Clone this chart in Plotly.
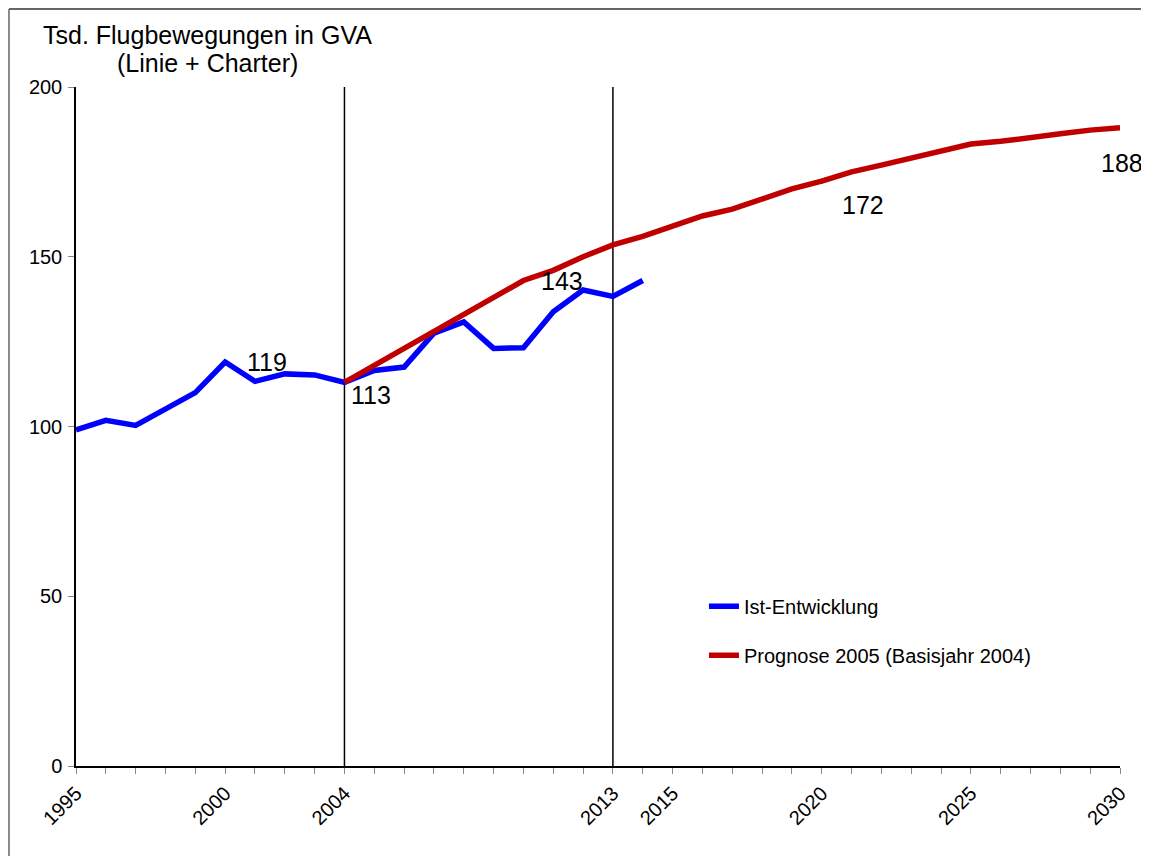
import plotly.graph_objects as go

years_ist = list(range(1995, 2015))
ist = [99.0, 101.8, 100.3, 105.0, 110.0, 119.0, 113.3, 115.5, 115.2, 113.0,
       116.5, 117.5, 127.5, 130.8, 123.0, 123.2, 133.8, 140.2, 138.3, 143.0]

years_prog = list(range(2004, 2031))
prog = [113.0, 118.0, 123.0, 128.0, 133.0, 138.0, 143.0, 146.0, 150.0, 153.5,
        156.0, 159.0, 162.0, 164.0, 167.0, 170.0, 172.3, 175.0, 177.0, 179.0,
        181.0, 183.2, 184.0, 185.3, 186.2, 187.3, 188.0]

tick_years = list(range(1995, 2031))
labeled_years = [1995, 2000, 2004, 2013, 2015, 2020, 2025, 2030]
marker_years = [2004, 2013]

# data labels: (series, year, text, xshift, yshift)
labels = [
    ("ist", 2000, "119", 42, 0),
    ("ist", 2004, "113", 27, -13),
    ("prog", 2010, "143", 39, 0),
    ("prog", 2020, "172", 41, -24),
    ("prog", 2030, "188", 2, -35),
]

FONT = "Liberation Sans, Arial, sans-serif"

fig = go.Figure()
fig.add_trace(go.Scatter(x=years_ist, y=ist, mode="lines", name="Ist-Entwicklung",
                         line=dict(color="#0000FF", width=5.5), legendgroup="a"))
fig.add_trace(go.Scatter(x=years_prog, y=prog, mode="lines",
                         name="Prognose 2005 (Basisjahr 2004)",
                         line=dict(color="#C00000", width=5.5), legendgroup="b"))

for yr in marker_years:
    fig.add_shape(type="line", xref="x", yref="y", x0=yr, x1=yr, y0=0, y1=200,
                  line=dict(color="black", width=1.5), layer="below")

series = {"ist": dict(zip(years_ist, ist)), "prog": dict(zip(years_prog, prog))}
for s, yr, txt, dx, dy in labels:
    fig.add_annotation(x=yr, y=series[s][yr], text=txt, showarrow=False,
                       xanchor="center", yanchor="middle",
                       xshift=dx, yshift=dy, font=dict(size=25, color="black", family=FONT))

fig.add_annotation(xref="paper", yref="paper", x=0.1255, y=1.0766, text="Tsd. Flugbewegungen in GVA",
                   showarrow=False, xanchor="center", yanchor="middle",
                   font=dict(size=25, color="black", family=FONT))
fig.add_annotation(xref="paper", yref="paper", x=0.1255, y=1.0354, text="(Linie + Charter)",
                   showarrow=False, xanchor="center", yanchor="middle",
                   font=dict(size=25, color="black", family=FONT))

# frame lines (top and left)
fig.add_shape(type="line", xref="paper", yref="paper", x0=-0.0642, x1=1.05, y0=1.1148, y1=1.1148,
              line=dict(color="#333333", width=1.5))
fig.add_shape(type="line", xref="paper", yref="paper", x0=-0.0642, x1=-0.0642, y0=1.1148, y1=-0.16,
              line=dict(color="#666666", width=1.5))

ticktext = [str(y) if y in labeled_years else "" for y in tick_years]

fig.update_layout(
    width=1149, height=856,
    margin=dict(l=68, r=37, t=79, b=98),
    paper_bgcolor="white", plot_bgcolor="white",
    font=dict(family=FONT, color="black", size=20),
    showlegend=True,
    legend=dict(x=0.6015, y=0.264, xanchor="left", yanchor="top",
                font=dict(size=20, family=FONT), tracegroupgap=20,
                bgcolor="rgba(0,0,0,0)"),
    xaxis=dict(range=[1995, 2030], tickvals=tick_years, ticktext=ticktext,
               tickangle=-45, showgrid=False, zeroline=False,
               showline=True, linecolor="black", linewidth=1.5,
               ticks="outside", ticklen=6, tickcolor="#888888",
               tickfont=dict(size=20, family=FONT)),
    yaxis=dict(range=[0, 200], tickvals=[0, 50, 100, 150, 200], showgrid=False,
               zeroline=False, showline=True, linecolor="black", linewidth=1.5,
               ticks="outside", ticklen=6, tickcolor="#888888",
               ticklabelstandoff=2,
               tickfont=dict(size=20, family=FONT)),
)

fig.write_html("out.html")
